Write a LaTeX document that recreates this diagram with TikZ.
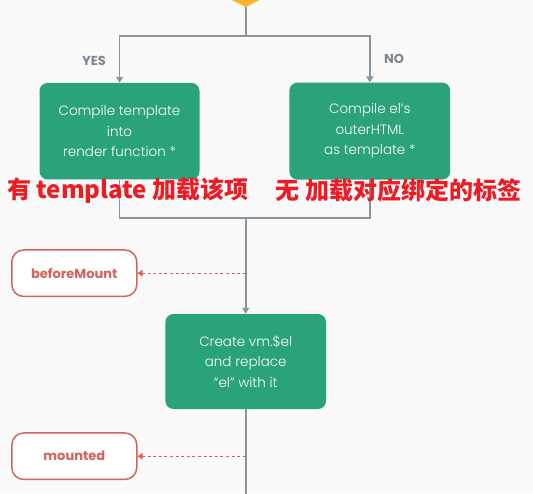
\documentclass[tikz,border=0pt]{standalone}
\usepackage{fontspec}
\setmainfont{Poppins}
\newfontfamily\boxfont{Poppins Light}
\newfontfamily\cjk{Noto Sans CJK SC}
\usetikzlibrary{arrows.meta,shapes.geometric}
\definecolor{vgreen}{HTML}{2BA37A}
\definecolor{vgray}{HTML}{8A969F}
\definecolor{vlabel}{HTML}{7D8790}
\definecolor{vhook}{HTML}{D5625C}
\definecolor{vred}{HTML}{EE1B24}
\definecolor{vyellow}{HTML}{FDB52C}
\definecolor{bgc}{HTML}{FAFAFA}
\tikzset{
  stepbox/.style={fill=vgreen, rounded corners=8pt, inner sep=0pt, align=center,
    text=white, font=\boxfont\fontsize{13.5}{20.5}\selectfont},
  hookbox/.style={draw=vhook, line width=1.5pt, fill=white, rounded corners=12pt,
    inner sep=0pt, minimum width=125pt, minimum height=46.5pt, text=vhook,
    font=\bfseries\fontsize{13}{15}\selectfont},
  flow/.style={draw=vgray, line width=1.7pt},
  flowarrow/.style={flow, -{Triangle[length=6pt,width=7pt]}},
  hookarrow/.style={draw=vhook, line width=1.3pt, dash pattern=on 3pt off 2.6pt,
    -{Triangle[length=5pt,width=6.5pt]}},
  yesno/.style={text=vlabel, font=\bfseries\fontsize{13}{15}\selectfont},
  note/.style={text=vred, anchor=west, inner sep=0pt,
    font=\cjk\bfseries\fontsize{24}{26}\selectfont},
}
\begin{document}
\begin{tikzpicture}[x=1pt,y=-1pt]
\clip (0,0) rectangle (533,493);
\fill[bgc] (0,0) rectangle (533,493);
\node[diamond, fill=vyellow, aspect=2, minimum width=60pt, minimum height=30pt, inner sep=0pt] (cond) at (245.7,-8) {};
\coordinate (split) at (245.7,35.7);
\coordinate (join) at (245.7,218);
\coordinate (bottom) at (245.7,500);
\node[stepbox, minimum width=160pt, minimum height=96.5pt] (left) at (119.5,131.2) {Compile template\\into\\render function *};
\node[stepbox, minimum width=160.8pt, minimum height=97pt] (right) at (369.8,131.1) {Compile el’s\\outerHTML\\as template *};
\node[stepbox, minimum width=160.6pt, minimum height=95pt] (create) at (245.7,361.5) {Create vm.\$el\\and replace\\“el” with it};
\node[hookbox] (bm) at (74.3,273.2) {beforeMount};
\node[hookbox] (mt) at (74.3,456.2) {mounted};
\node[yesno] (yes) at (94,61) {YES};
\node[yesno] (no) at (394,59) {NO};
\draw[flow] (cond.south) -- (split);
\draw[flowarrow] (split) -| (left.north);
\draw[flowarrow] (split) -| (right.north);
\draw[flow] (left.south) |- (join);
\draw[flow] (right.south) |- (join);
\draw[flowarrow] (join) -- (create.north);
\draw[flow] (create.south) -- (bottom);
\coordinate (bmtap) at (245.7,273.2);
\coordinate (mttap) at (245.7,456.2);
\draw[hookarrow] (bmtap) -- (bm.east);
\draw[hookarrow] (mttap) -- (mt.east);
\node[note] (n1) at (7,190.5) {有 template 加载该项};
\node[note] (n2) at (275.7,190.5) {无 加载对应绑定的标签};
\end{tikzpicture}
\end{document}
